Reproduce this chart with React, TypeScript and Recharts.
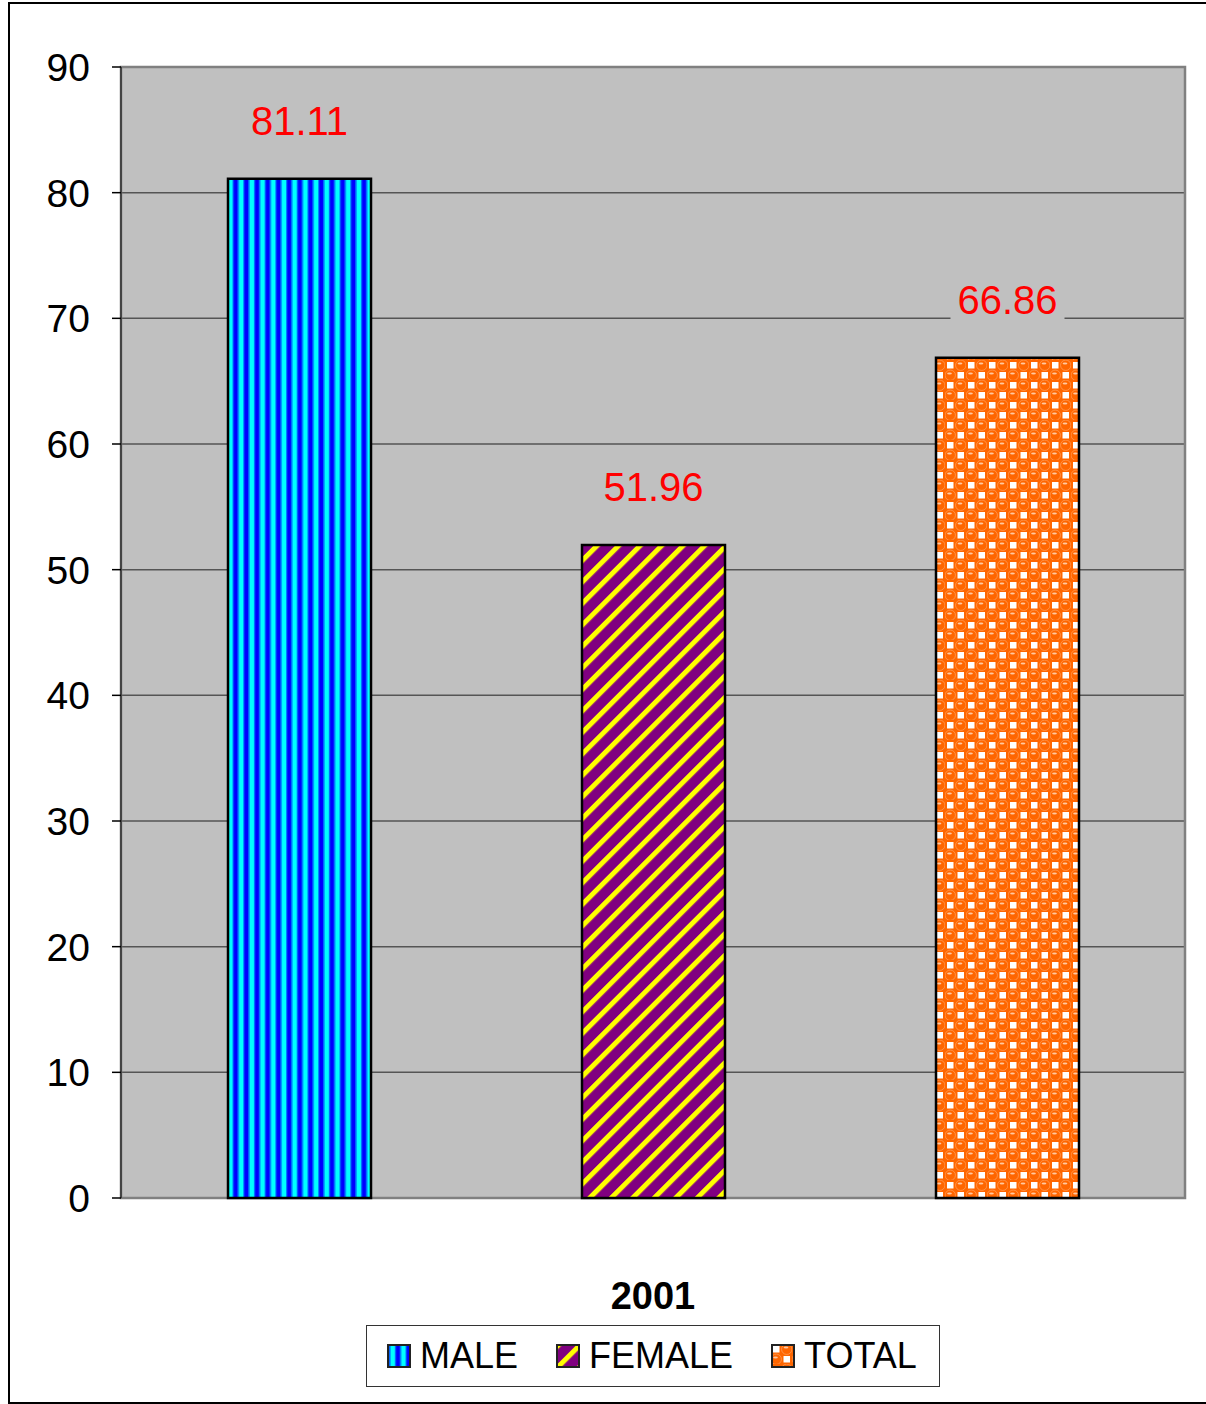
import React from 'react';
import { BarChart, Bar, XAxis, YAxis, CartesianGrid, ReferenceArea, LabelList } from 'recharts';

const years = ['2001'];
const seriesNames = ['MALE', 'FEMALE', 'TOTAL'];
const maleValues = [81.11];
const femaleValues = [51.96];
const totalValues = [66.86];
const yTicks = [0, 10, 20, 30, 40, 50, 60, 70, 80, 90];

const FONT = '"Liberation Sans", Arial, sans-serif';
const PLOT_BG = '#C0C0C0';

const chartData = years.map((year, i) => ({
  year,
  MALE: maleValues[i],
  FEMALE: femaleValues[i],
  TOTAL: totalValues[i],
}));

const fills: Record<string, string> = {
  MALE: 'url(#malePattern)',
  FEMALE: 'url(#femalePattern)',
  TOTAL: 'url(#totalPattern)',
};

const ValueLabel = (props: any) => {
  const { x, y, width, value } = props;
  const cx = x + width / 2;
  const cy = y - 58;
  return (
    <g>
      <rect x={cx - 57} y={cy - 21} width={114} height={42} fill={PLOT_BG} />
      <text x={cx} y={cy} textAnchor="middle" dominantBaseline="central" fill="#FF0000" fontSize={40} fontFamily={FONT}>
        {Number(value).toFixed(2)}
      </text>
    </g>
  );
};

const YearTick = (props: any) => {
  const { x, y, payload } = props;
  return (
    <text x={x} y={y + 98} textAnchor="middle" dominantBaseline="central" fill="#000" fontSize={38} fontWeight="bold" fontFamily={FONT}>
      {payload.value}
    </text>
  );
};

const Patterns = () => (
  <defs>
    <pattern id="malePattern" patternUnits="userSpaceOnUse" width={10.7} height={10}>
      <rect x={0} y={0} width={10.7} height={10} fill="#0000FF" />
      <rect x={2.2} y={0} width={1.2} height={10} fill="#0080FF" />
      <rect x={3.4} y={0} width={4.4} height={10} fill="#00FFFF" />
      <rect x={7.8} y={0} width={1.2} height={10} fill="#0080FF" />
    </pattern>
    <pattern id="femalePattern" patternUnits="userSpaceOnUse" width={15.2} height={15.2} patternTransform="rotate(45)">
      <rect x={0} y={0} width={15.2} height={15.2} fill="#800080" />
      <rect x={0} y={0} width={5} height={15.2} fill="#FFFF00" />
    </pattern>
    <pattern id="totalPattern" patternUnits="userSpaceOnUse" width={21} height={20}>
      <rect x={0} y={0} width={21} height={20} fill="#FF6600" />
      <rect x={2} y={2} width={6.5} height={6.5} fill="#FFFFFF" />
      <rect x={12.5} y={12} width={6.5} height={6.5} fill="#FFFFFF" />
      <circle cx={15.75} cy={5.25} r={5.2} fill="#FF6600" stroke="#FF9A55" strokeWidth={0.8} />
      <ellipse cx={15} cy={3.4} rx={2.4} ry={1} fill="#FFC8A0" />
      <circle cx={5.25} cy={15.25} r={5.2} fill="#FF6600" stroke="#FF9A55" strokeWidth={0.8} />
      <ellipse cx={4.5} cy={13.4} rx={2.4} ry={1} fill="#FFC8A0" />
    </pattern>
  </defs>
);

const Swatch = ({ name }: { name: string }) => (
  <svg width={24} height={24} style={{ display: 'block' }}>
    <rect x={1} y={1} width={22} height={22} fill={fills[name]} stroke="#222" strokeWidth={2} />
  </svg>
);

export default function App() {
  return (
    <div style={{ position: 'absolute', left: 0, top: 0, width: 1206, height: 1404, overflow: 'hidden', background: '#fff', fontFamily: FONT }}>
      <div
        style={{
          position: 'absolute',
          left: 8,
          top: 2,
          width: 1220,
          height: 1402,
          border: '2px solid #000',
          boxSizing: 'border-box',
        }}
      />
      <div style={{ position: 'absolute', left: 0, top: 0 }}>
        <BarChart
          width={1206}
          height={1404}
          data={chartData}
          margin={{ top: 67, right: 21, left: 0, bottom: 0 }}
          barSize={143}
          barGap={211}
          barCategoryGap={106}
        >
          <Patterns />
          <CartesianGrid vertical={false} fill={PLOT_BG} stroke="#555" strokeWidth={1.5} />
          <XAxis
            dataKey="year"
            height={206}
            axisLine={false}
            tickLine={false}
            tickSize={0}
            tickMargin={0}
            tick={<YearTick />}
          />
          <YAxis
            width={121}
            domain={[0, 90]}
            ticks={yTicks}
            interval={0}
            axisLine={{ stroke: '#444', strokeWidth: 2 }}
            tickLine={{ stroke: '#000', strokeWidth: 1.5 }}
            tickSize={9}
            tickMargin={22}
            tick={{ fontSize: 39, fill: '#000', fontFamily: FONT }}
          />
          <ReferenceArea y1={0} y2={90} fill="none" stroke="#808080" strokeWidth={2.5} fillOpacity={0} ifOverflow="visible" />
          {seriesNames.map((name) => (
            <Bar key={name} dataKey={name} fill={fills[name]} stroke="#000" strokeWidth={2.5} isAnimationActive={false}>
              <LabelList dataKey={name} content={<ValueLabel />} />
            </Bar>
          ))}
        </BarChart>
      </div>
      <div
        style={{
          position: 'absolute',
          left: 366,
          top: 1325,
          width: 574,
          height: 62,
          border: '1.5px solid #333',
          boxSizing: 'border-box',
          background: '#fff',
          display: 'flex',
          alignItems: 'center',
          paddingLeft: 20,
        }}
      >
        {seriesNames.map((name, i) => (
          <div key={name} style={{ display: 'flex', alignItems: 'center', marginLeft: i === 0 ? 0 : 38 }}>
            <Swatch name={name} />
            <span style={{ fontSize: 36, marginLeft: 9, color: '#000', lineHeight: 1 }}>{name}</span>
          </div>
        ))}
      </div>
    </div>
  );
}
